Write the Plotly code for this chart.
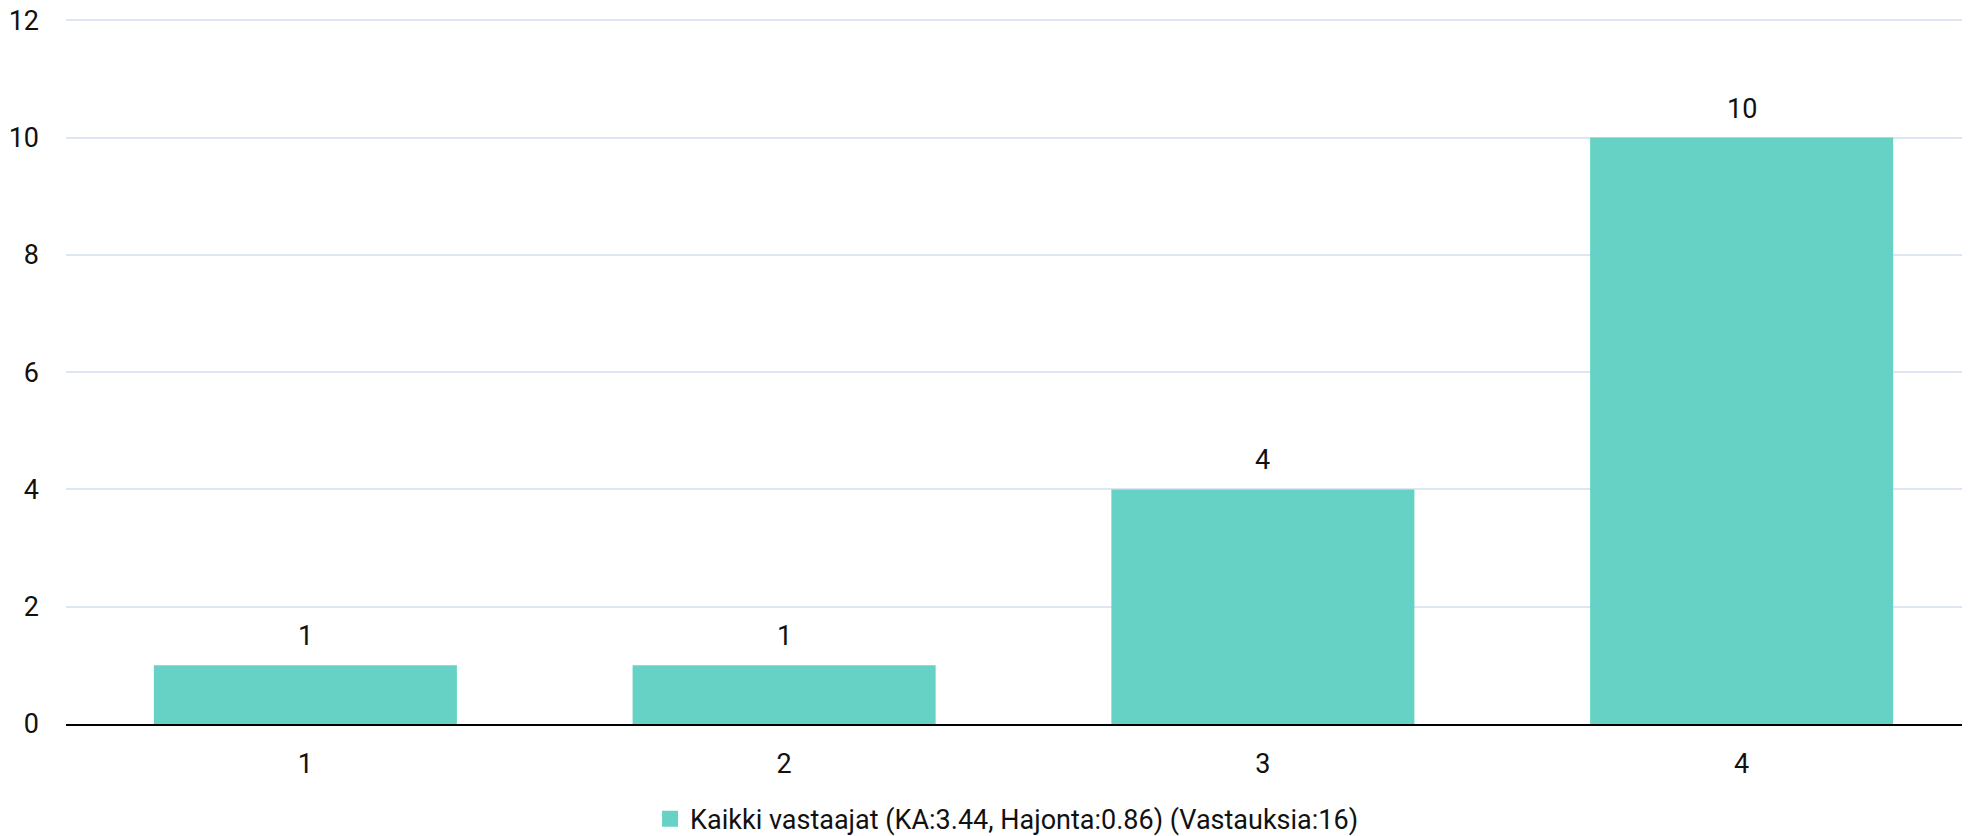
import plotly.graph_objects as go

categories = [1, 2, 3, 4]
tick_labels = ["1", "2", "3", "4"]
values = [1, 1, 4, 10]
series_name = "Kaikki vastaajat (KA:3.44, Hajonta:0.86) (Vastauksia:16)"
y_ticks = [0, 2, 4, 6, 8, 10, 12]

BAR_COLOR = "#66D2C5"
FONT = "Roboto"
FS = 27

fig = go.Figure()
fig.add_trace(go.Bar(
    x=categories, y=values, width=0.633,
    marker=dict(color=BAR_COLOR, line=dict(width=0)),
    showlegend=False, hoverinfo="skip",
))
# legend entry
fig.add_trace(go.Scatter(
    x=[None], y=[None], mode="markers", name=series_name,
    marker=dict(symbol="square", size=16, color=BAR_COLOR),
))

for c, v in zip(categories, values):
    fig.add_annotation(x=c, y=v, text=str(v), showarrow=False,
                       yanchor="middle", yshift=29,
                       font=dict(family=FONT, size=FS, color="#111111"))

# page body has an 8px default margin, so the figure is sized/offset to compensate
fig.update_layout(
    width=1962, height=828,
    margin=dict(l=58, r=0, t=10, b=112, autoexpand=False),
    paper_bgcolor="white", plot_bgcolor="white",
    font=dict(family=FONT, size=FS, color="#111111"),
    showlegend=True,
    legend=dict(orientation="h", x=0.494, xanchor="center", y=-0.135, yanchor="middle",
                font=dict(family=FONT, size=FS, color="#111111"),
                itemsizing="trace", itemwidth=30, bgcolor="rgba(0,0,0,0)"),
    xaxis=dict(
        range=[0.5, 4.477], tickmode="array", tickvals=categories, ticktext=tick_labels,
        showgrid=False, zeroline=False, showline=True, linecolor="#000000", linewidth=2,
        ticks="", ticklabelstandoff=15, fixedrange=True, automargin=False,
    ),
    yaxis=dict(
        range=[0, 12.04], tickmode="array", tickvals=y_ticks,
        showgrid=True, gridcolor="#dde6f2", gridwidth=2, zeroline=False,
        showline=False, ticks="", ticklabelstandoff=26, fixedrange=True, automargin=False,
        ticklabeloverflow="allow",
    ),
)

fig.write_html("out.html", config={"displayModeBar": False})
